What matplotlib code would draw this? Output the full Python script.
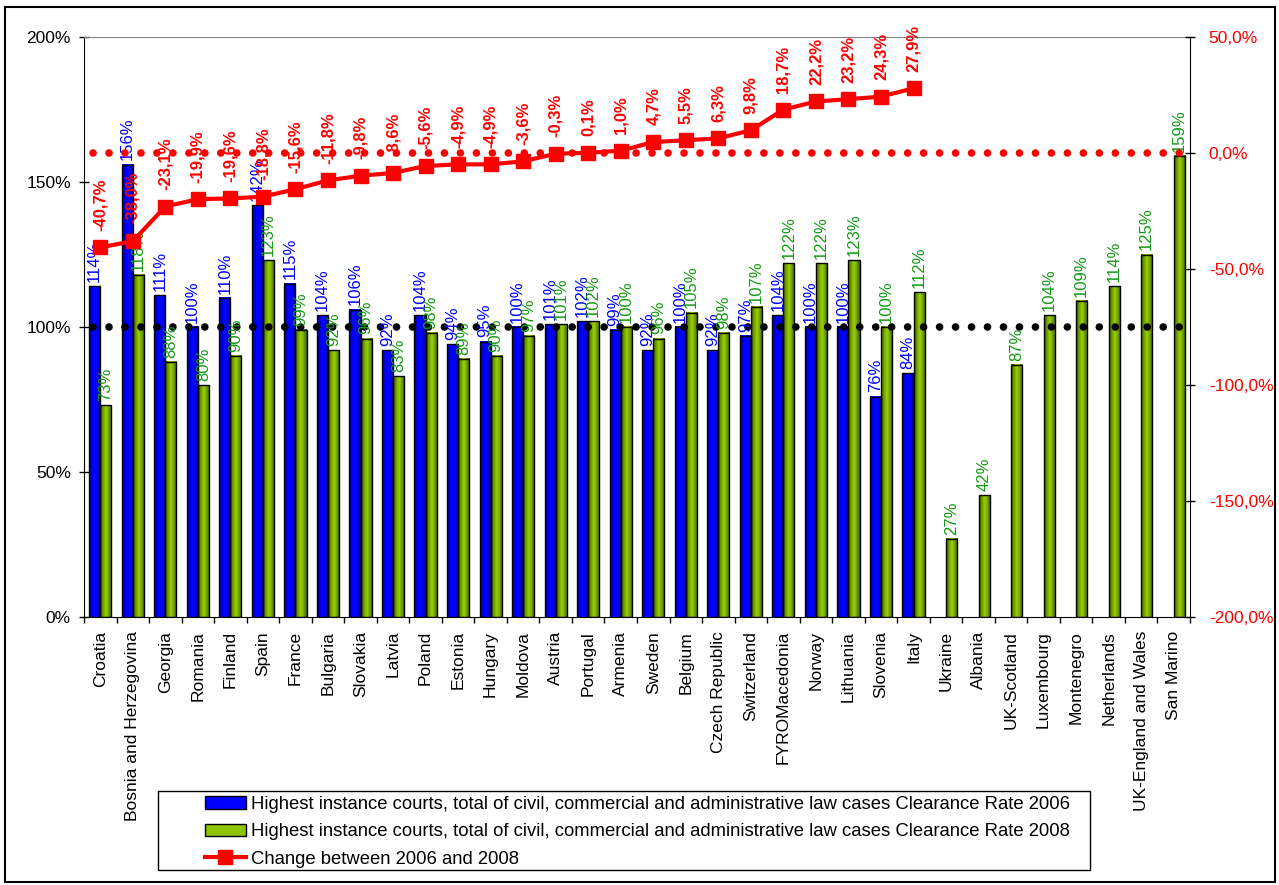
import matplotlib
matplotlib.use("Agg")
import matplotlib.pyplot as plt
import numpy as np
from matplotlib.colors import LinearSegmentedColormap
from matplotlib.patches import Rectangle
from matplotlib.lines import Line2D
from matplotlib.ticker import FuncFormatter, FixedLocator

plt.rcParams['font.family'] = ['Liberation Sans', 'DejaVu Sans']

countries = ["Croatia", "Bosnia and Herzegovina", "Georgia", "Romania", "Finland", "Spain",
             "France", "Bulgaria", "Slovakia", "Latvia", "Poland", "Estonia", "Hungary",
             "Moldova", "Austria", "Portugal", "Armenia", "Sweden", "Belgium", "Czech Republic",
             "Switzerland", "FYROMacedonia", "Norway", "Lithuania", "Slovenia", "Italy",
             "Ukraine", "Albania", "UK-Scotland", "Luxembourg", "Montenegro", "Netherlands",
             "UK-England and Wales", "San Marino"]

nan = np.nan
rate_2006 = [114, 156, 111, 100, 110, 142, 115, 104, 106, 92, 104, 94, 95, 100, 101, 102,
             99, 92, 100, 92, 97, 104, 100, 100, 76, 84, nan, nan, nan, nan, nan, nan, nan, nan]
rate_2008 = [73, 118, 88, 80, 90, 123, 99, 92, 96, 83, 98, 89, 90, 97, 101, 102,
             100, 96, 105, 98, 107, 122, 122, 123, 100, 112, 27, 42, 87, 104, 109, 114, 125, 159]
change = [-40.7, -38.0, -23.1, -19.9, -19.6, -18.8, -15.6, -11.8, -9.8, -8.6, -5.6, -4.9,
          -4.9, -3.6, -0.3, 0.1, 1.0, 4.7, 5.5, 6.3, 9.8, 18.7, 22.2, 23.2, 24.3, 27.9]

legend_labels = [
    "Highest instance courts, total of civil, commercial and administrative law cases Clearance Rate 2006",
    "Highest instance courts, total of civil, commercial and administrative law cases Clearance Rate 2008",
    "Change between 2006 and 2008",
]

W, H = 1279, 885
DOTS = (0.91, (0.001, 2.09))


def comma_pct(v):
    return f"{v:.1f}".replace(".", ",") + "%"


def gradient_fill(ax, bars, cmap):
    """Paint each bar with a horizontal gradient, keep the bar as outline"""
    grad = np.linspace(0, 1, 64).reshape(1, -1)
    for bar in bars:
        h = bar.get_height()
        if not np.isfinite(h) or h == 0:
            continue
        x0 = bar.get_x()
        ax.imshow(grad, cmap=cmap, extent=[x0, x0 + bar.get_width(), 0, h],
                  aspect="auto", zorder=2, interpolation="bicubic")
        bar.set_facecolor("none")
        bar.set_zorder(2.5)


fig = plt.figure(figsize=(W / 100, H / 100), dpi=100)
ax = fig.add_axes([84 / W, 1 - 617 / H, (1190 - 84) / W, (617 - 37) / H])

x = np.arange(len(countries))
w = 0.34
b06 = ax.bar(x - w / 2, rate_2006, w, color="#0000FF", edgecolor="black", linewidth=1)
b08 = ax.bar(x + w / 2, rate_2008, w, color="#8CC400", edgecolor="black", linewidth=1)

blue_cmap = LinearSegmentedColormap.from_list("b", ["#00008C", "#0000FF", "#0000FF", "#00008C"])
green_cmap = LinearSegmentedColormap.from_list("g", ["#3C6400", "#A0D400", "#3C6400"])
gradient_fill(ax, b06, blue_cmap)
gradient_fill(ax, b08, green_cmap)

ax.set_xlim(-0.5, len(countries) - 0.5)
ax.set_ylim(0, 200)

# bar value labels
for xi, v in zip(x, rate_2006):
    if np.isfinite(v):
        ax.annotate(f"{v:.0f}%", (xi - w / 2, v), xytext=(0, 3), textcoords="offset points",
                    rotation=90, ha="center", va="bottom", color="#0000FF", fontsize=12, zorder=5)
for xi, v in zip(x, rate_2008):
    if np.isfinite(v):
        ax.annotate(f"{v:.0f}%", (xi + w / 2, v), xytext=(0, 3), textcoords="offset points",
                    rotation=90, ha="center", va="bottom", color="#139A13", fontsize=12, zorder=5)

# dotted reference line at 100 %
ax.axhline(100, color="black", linewidth=5.5, linestyle=DOTS, dash_capstyle="round", zorder=4)

ax.yaxis.set_major_locator(FixedLocator([0, 50, 100, 150, 200]))
ax.yaxis.set_major_formatter(FuncFormatter(lambda v, p: f"{v:.0f}%"))
ax.tick_params(axis="y", direction="inout", length=7, width=1, labelsize=12.5, pad=6)
ax.set_xticks(x)
ax.set_xticklabels(countries, rotation=90, fontsize=12.5)
ax.tick_params(axis="x", which="major", length=0, pad=10)
ax.xaxis.set_minor_locator(FixedLocator(np.arange(-0.5, len(countries), 1.0)))
ax.tick_params(axis="x", which="minor", direction="out", length=4, width=1)

for side in ("left", "bottom"):
    ax.spines[side].set_color("black")
ax.spines["top"].set_color("#808080")
ax.spines["right"].set_visible(False)

# change on the secondary axis
ax2 = ax.twinx()
ax2.set_ylim(-200, 50)
ax2.axhline(0, color="red", linewidth=5.5, linestyle=DOTS, dash_capstyle="round", zorder=3)
ax2.plot(x[:len(change)], change, color="red", linewidth=3, marker="s", markersize=10, zorder=4)
for xi, v in zip(x, change):
    ax2.annotate(comma_pct(v), (xi, v), xytext=(0, 12), textcoords="offset points",
                 rotation=90, ha="center", va="bottom", color="red", fontsize=12,
                 fontweight="bold", zorder=5)

ax2.yaxis.set_major_locator(FixedLocator([-200, -150, -100, -50, 0, 50]))
ax2.yaxis.set_major_formatter(FuncFormatter(lambda v, p: comma_pct(v)))
ax2.tick_params(axis="y", direction="inout", length=7, width=1, labelsize=12.5,
                labelcolor="red", pad=10)
for side in ("left", "bottom", "top"):
    ax2.spines[side].set_visible(False)
ax2.spines["right"].set_color("black")

# legend with a plain frame
handles = [
    Rectangle((0, 0), 1, 1, facecolor="#0000FF", edgecolor="black", linewidth=1),
    Rectangle((0, 0), 1, 1, facecolor="#8CC400", edgecolor="black", linewidth=1),
    Line2D([0], [0], color="red", linewidth=3, marker="s", markersize=10),
]
fig.legend(handles, legend_labels, loc="upper left", bbox_to_anchor=(205 / W, 1 - 796 / H),
           frameon=False, fontsize=13.3, handlelength=2.2, handleheight=0.65,
           handletextpad=0.3, labelspacing=0.56, borderpad=0, borderaxespad=0)
fig.add_artist(Rectangle((158 / W, 1 - 870 / H), (1090 - 158) / W, 79 / H,
                         transform=fig.transFigure, fill=False, edgecolor="black", linewidth=1))

# outer chart border
fig.add_artist(Rectangle((5 / W, 1 - 882 / H), (1275 - 5) / W, (882 - 7) / H,
                         transform=fig.transFigure, fill=False, edgecolor="black", linewidth=1.5))

fig.savefig("out.png", dpi=100, facecolor="white")
